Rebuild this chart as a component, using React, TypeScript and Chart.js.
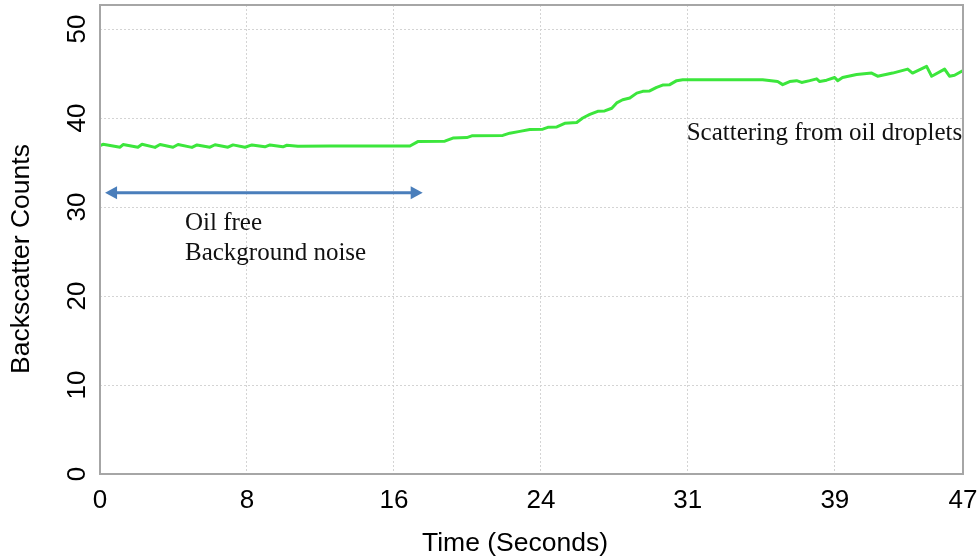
import { useEffect, useRef } from "react";
import { Chart, registerables } from "chart.js";

Chart.register(...registerables);

// Backscatter trace: time in seconds and detector counts
const timeSec = [
  0, 0.16, 1.07, 1.23, 2.02, 2.24, 2.93, 3.2, 3.89, 4.16, 4.9, 5.17, 5.86, 6.13,
  6.82, 7.09, 7.73, 8.1, 8.79, 9.06, 9.75, 9.96, 10.55, 12.25, 14.38, 16.52,
  16.94, 18.38, 18.81, 19.55, 19.82, 21.47, 21.84, 22.38, 22.91, 23.6, 23.87,
  24.35, 24.77, 25.41, 25.73, 26.11, 26.53, 26.9, 27.28, 27.54, 27.86, 28.24,
  28.61, 28.93, 29.3, 29.67, 29.99, 30.37, 30.74, 31.06, 31.97, 35.32, 36.12,
  36.39, 36.76, 37.13, 37.4, 37.83, 38.2, 38.36, 38.73, 39.16, 39.32, 39.58,
  40.33, 41.13, 41.45, 42.25, 43.05, 43.31, 44.06, 44.33, 45.02, 45.28, 45.55,
  45.98,
];
const counts = [
  36.9, 37.05, 36.72, 37.02, 36.72, 37.05, 36.7, 37.02, 36.72, 37.02, 36.7, 36.98,
  36.72, 37.0, 36.72, 36.98, 36.72, 36.98, 36.76, 36.98, 36.76, 36.94, 36.82, 36.85,
  36.85, 36.85, 37.35, 37.4, 37.75, 37.8, 38.0, 38.05, 38.3, 38.5, 38.7, 38.75,
  38.95, 39.0, 39.4, 39.5, 40.0, 40.4, 40.75, 40.8, 41.1, 41.7, 42.05, 42.25,
  42.8, 43.0, 43.05, 43.45, 43.7, 43.75, 44.2, 44.3, 44.3, 44.3, 44.1, 43.75,
  44.1, 44.2, 44.0, 44.2, 44.4, 44.1, 44.25, 44.55, 44.2, 44.55, 44.9, 45.05,
  44.7, 45.05, 45.5, 45.05, 45.8, 44.7, 45.5, 44.7, 44.8, 45.3,
];

const xTickValues = [0, 7.83, 15.67, 23.5, 31.33, 39.17, 46];
const xTickLabels = ["0", "8", "16", "24", "31", "39", "47"];
const yTickValues = [0, 10, 20, 30, 40, 50];
const xMax = 46;
const yMax = 52.7;

// Double-headed arrow marking the oil-free interval (seconds, counts)
const noiseSpan = { from: 0.27, to: 17.2, level: 31.6 };
const noteTexts = ["Oil free", "Background noise", "Scattering from oil droplets"];
const noteTimes = [4.53, 4.53, 31.27];
const noteLevels = [27.45, 24.0, 37.56];

const xTitle = "Time (Seconds)";
const yTitle = "Backscatter Counts";

const sans = '"Liberation Sans", Arial, sans-serif';
const serif = '"Liberation Serif", "Times New Roman", serif';

const decorations = {
  id: "decorations",
  afterDatasetsDraw(chart: any) {
    const { ctx, chartArea: a, scales } = chart;
    const x = scales.x;
    const y = scales.y;
    ctx.save();

    // plot frame
    ctx.strokeStyle = "#a6a6a6";
    ctx.lineWidth = 2;
    ctx.strokeRect(a.left, a.top, a.right - a.left, a.bottom - a.top);

    // arrow
    const x0 = x.getPixelForValue(noiseSpan.from);
    const x1 = x.getPixelForValue(noiseSpan.to);
    const yy = y.getPixelForValue(noiseSpan.level);
    const head = 12;
    const half = 6.5;
    ctx.strokeStyle = "#4a7ebb";
    ctx.fillStyle = "#4a7ebb";
    ctx.lineWidth = 3;
    ctx.beginPath();
    ctx.moveTo(x0 + head - 1, yy);
    ctx.lineTo(x1 - head + 1, yy);
    ctx.stroke();
    ctx.beginPath();
    ctx.moveTo(x0, yy);
    ctx.lineTo(x0 + head, yy - half);
    ctx.lineTo(x0 + head, yy + half);
    ctx.closePath();
    ctx.fill();
    ctx.beginPath();
    ctx.moveTo(x1, yy);
    ctx.lineTo(x1 - head, yy - half);
    ctx.lineTo(x1 - head, yy + half);
    ctx.closePath();
    ctx.fill();

    // notes
    ctx.fillStyle = "#111";
    ctx.font = `25px ${serif}`;
    ctx.textAlign = "left";
    ctx.textBaseline = "alphabetic";
    noteTexts.forEach((t, i) => {
      ctx.fillText(t, x.getPixelForValue(noteTimes[i]), y.getPixelForValue(noteLevels[i]));
    });

    // axis titles
    ctx.fillStyle = "#000";
    ctx.font = `26.5px ${sans}`;
    ctx.textAlign = "center";
    ctx.textBaseline = "middle";
    ctx.fillText(xTitle, 515, 544);
    ctx.translate(22, 259);
    ctx.rotate(-Math.PI / 2);
    ctx.fillText(yTitle, 0, 0);
    ctx.restore();
  },
};

export default function App() {
  const canvasRef = useRef<HTMLCanvasElement | null>(null);

  useEffect(() => {
    const canvas = canvasRef.current;
    if (!canvas) return;
    const points = timeSec.map((t, i) => ({ x: t, y: counts[i] }));
    const grid = {
      color: "#d4d4d4",
      lineWidth: 1,
      drawTicks: false,
      tickLength: 0,
    };
    const chart = new Chart(canvas, {
      type: "line",
      data: {
        datasets: [
          {
            data: points,
            borderColor: "#3ce63c",
            borderWidth: 3,
            pointRadius: 0,
            tension: 0,
            borderJoinStyle: "round",
            borderCapStyle: "round",
          },
        ],
      },
      options: {
        animation: false,
        responsive: false,
        events: [],
        layout: { padding: { left: 0, top: 5, right: 17, bottom: 0 } },
        plugins: { legend: { display: false }, tooltip: { enabled: false } },
        scales: {
          x: {
            type: "linear",
            min: 0,
            max: xMax,
            grid,
            border: { display: false, dash: [2, 2] },
            afterBuildTicks: (s: any) => {
              s.ticks = xTickValues.map((v) => ({ value: v }));
            },
            afterFit: (s: any) => {
              s.height = 86;
              s.paddingLeft = 0;
              s.paddingRight = 0;
            },
            ticks: {
              autoSkip: false,
              maxRotation: 0,
              padding: 11,
              color: "#000",
              font: { family: sans, size: 26 },
              callback: (_v: any, i: number) => xTickLabels[i],
            },
          },
          y: {
            min: 0,
            max: yMax,
            grid,
            border: { display: false, dash: [2, 2] },
            afterBuildTicks: (s: any) => {
              s.ticks = yTickValues.map((v) => ({ value: v }));
            },
            afterFit: (s: any) => {
              s.width = 100;
              s.paddingTop = 0;
              s.paddingBottom = 0;
            },
            ticks: {
              minRotation: 90,
              maxRotation: 90,
              crossAlign: "center",
              padding: 8,
              color: "#000",
              font: { family: sans, size: 26 },
              callback: (v: any) => String(v),
            },
          },
        },
      },
      plugins: [decorations],
    } as any);
    return () => chart.destroy();
  }, []);

  return (
    <div style={{ position: "absolute", left: 0, top: 0, width: 980, height: 560, background: "#fff" }}>
      <canvas ref={canvasRef} width={980} height={560} style={{ display: "block" }} />
    </div>
  );
}
